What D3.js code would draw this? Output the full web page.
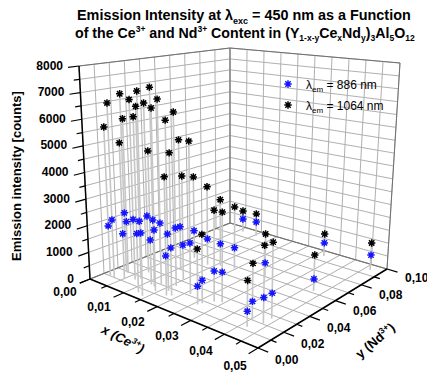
<!DOCTYPE html>
<html><head><meta charset="utf-8">
<script src="https://cdn.jsdelivr.net/npm/d3@7"></script>
<style>
body{margin:0;background:#fff}
text{font-family:"Liberation Sans",Arial,Helvetica,sans-serif}
</style>
</head><body>
<svg id="chart" width="427" height="376"></svg>
<script>
// ---------- data ----------
const ceContent = [0.0017,0.0034,0.0053,0.0030,0.0036,0.0070,0.0121,0.0077,0.0140,0.0066,
                   0.0114,0.0126,0.0144,0.0132,0.0177,0.0165,0.0186,0.0160,0.0110,0.0148,
                   0.0212,0.0085,0.0135,0.0161,0.0196,0.0278,0.0294,0.0263,0.0260,0.0406,
                   0.0417,0.0436,0.0436,0.0285,0.0425,0.0320,0.0467,0.0063,0.0105];
const ndContent = [0.0105,0.0093,0.0120,0.0190,0.0188,0.0156,0.0057,0.0182,0.0040,0.0263,
                   0.0168,0.0161,0.0125,0.0197,0.0125,0.0169,0.0141,0.0238,0.0391,0.0319,
                   0.0216,0.0549,0.0527,0.0559,0.0579,0.0230,0.0250,0.0178,0.0151,0.0197,
                   0.0130,0.0206,0.0270,0.0592,0.0618,0.0950,0.0950,0.0950,0.0950];
const em886  = [1880,2200,1710,2280,1970,2250,2110,2160,2240,2170,
                1640,2440,2210,2280,1410,2060,1700,2130,1680,1290,
                1830,1090,1020,860,800,1070,1050,800,640,630,
                505,855,850,550,435,530,570,565,600];
const em1064 = [5640,6600,5120,6850,5910,6750,6320,6480,7300,6500,
                4930,7310,6620,6850,4230,6180,5090,6390,5040,3880,
                5480,3260,3070,2590,2390,3200,3150,2400,1930,1890,
                1510,2570,2550,1640,1300,890,1040,920,950];
const seriesNames = ["886 nm","1064 nm"];
const xTickValues = [0,0.005,0.01,0.015,0.02,0.025,0.03,0.035,0.04,0.045,0.05];
const yTickValues = [0,0.01,0.02,0.03,0.04,0.05,0.06,0.07,0.08,0.09,0.10];
const zTickValues = d3.range(0,8001,500);

// ---------- layout ----------
const svg = d3.select("#chart");
const xs = d3.scaleLinear().domain([0,0.05]).range([0,1]);
const ys = d3.scaleLinear().domain([0,0.1]).range([0,1]);
const zs = d3.scaleLinear().domain([0,8000]).range([0,1]);
// projected box corners [u][v][w]
const C = [[[[90,279],[79,66]],[[230,223],[230,48]]],
           [[[258,348],[262,88]],[[387,269],[400,63]]]];
function P(u,v,w){
  let x=0,y=0;
  for(let i=0;i<2;i++)for(let j=0;j<2;j++)for(let k=0;k<2;k++){
    const wt=(i?u:1-u)*(j?v:1-v)*(k?w:1-w);
    x+=wt*C[i][j][k][0]; y+=wt*C[i][j][k][1];
  }
  return [x,y];
}
function seg(g,a,b,stroke,sw){
  g.append("line").attr("x1",a[0]).attr("y1",a[1]).attr("x2",b[0]).attr("y2",b[1])
   .attr("stroke",stroke).attr("stroke-width",sw);
}
function unit(a,b){const dx=b[0]-a[0],dy=b[1]-a[1],l=Math.hypot(dx,dy);return [dx/l,dy/l];}

const grid = svg.append("g");
const gc = "#b0b0b0";
// back-left wall (x=0)
yTickValues.forEach(t=>seg(grid,P(0,ys(t),0),P(0,ys(t),1),gc,1));
zTickValues.forEach(t=>seg(grid,P(0,0,zs(t)),P(0,1,zs(t)),gc,1));
// back-right wall (y=0.1)
xTickValues.forEach(t=>seg(grid,P(xs(t),1,0),P(xs(t),1,1),gc,1));
zTickValues.forEach(t=>seg(grid,P(0,1,zs(t)),P(1,1,zs(t)),gc,1));
// floor
xTickValues.forEach(t=>seg(grid,P(xs(t),0,0),P(xs(t),1,0),gc,1));
yTickValues.forEach(t=>seg(grid,P(0,ys(t),0),P(1,ys(t),0),gc,1));
// frame
const fc="#707070";
seg(grid,P(0,0,1),P(0,1,1),fc,1);
seg(grid,P(0,1,1),P(1,1,1),fc,1);
seg(grid,P(1,1,0),P(1,1,1),fc,1);
seg(grid,P(0,1,0),P(0,1,1),fc,1);
seg(grid,P(0,1,0),P(1,1,0),fc,1.2);
seg(grid,P(0,0,0),P(0,1,0),fc,1.2);
// axes
seg(grid,P(0,0,0),P(0,0,1),"#000",1.5);
seg(grid,P(0,0,0),P(1,0,0),"#000",1.5);
seg(grid,P(1,0,0),P(1,1,0),"#000",1.5);

const fmt = v=>d3.format(".2f")(v).replace(".",",");
const lab = svg.append("g").attr("font-weight","bold").attr("font-size",12);
// z ticks
zTickValues.forEach(t=>{
  const p=P(0,0,zs(t)), d=unit(P(0,1,zs(t)),p), major=t%1000===0, L=major?11:6;
  seg(lab,p,[p[0]+d[0]*L,p[1]+d[1]*L],"#000",1.2);
  if(major) lab.append("text").attr("x",p[0]-16).attr("y",p[1]+3.5)
     .attr("text-anchor","end").text(t);
});
// x ticks
xTickValues.forEach((t,i)=>{
  const p=P(xs(t),0,0), d=unit(P(xs(t),1,0),p), major=i%2===0, L=major?11:6;
  seg(lab,p,[p[0]+d[0]*L,p[1]+d[1]*L],"#000",1.2);
  if(major) lab.append("text").attr("x",p[0]+d[0]*28+1).attr("y",p[1]+d[1]*28+7)
     .attr("text-anchor","middle").text(fmt(t));
});
// y ticks
yTickValues.forEach((t,i)=>{
  const p=P(1,ys(t),0), d=unit(P(0,ys(t),0),p), major=i%2===0, L=major?11:6;
  seg(lab,p,[p[0]+d[0]*L,p[1]+d[1]*L],"#000",1.2);
  if(major) lab.append("text").attr("x",p[0]+d[0]*31).attr("y",p[1]+d[1]*31+4.5)
     .attr("text-anchor","middle").text(fmt(t));
});

// drop lines
const drops = svg.append("g");
ceContent.forEach((c,i)=>{
  const top=Math.max(em886[i],em1064[i]);
  seg(drops,P(xs(c),ys(ndContent[i]),zs(top)),P(xs(c),ys(ndContent[i]),0),"#c6c6c6",1.6);
});
// markers
function star(g,p,col){
  const r=3.7;
  const d=`M${p[0]-r},${p[1]}h${2*r}M${p[0]},${p[1]-r}v${2*r}`+
          `M${p[0]-r*0.72},${p[1]-r*0.72}l${1.44*r},${1.44*r}M${p[0]-r*0.72},${p[1]+r*0.72}l${1.44*r},${-1.44*r}`;
  g.append("path").attr("d",d).attr("stroke",col).attr("stroke-width",1.5).attr("fill","none");
}
const mk = svg.append("g");
ceContent.forEach((c,i)=>{
  star(mk,P(xs(c),ys(ndContent[i]),zs(em1064[i])),"#000");
  star(mk,P(xs(c),ys(ndContent[i]),zs(em886[i])),"#1414ff");
});

// legend
const lg = svg.append("g").attr("font-size",12);
[["#1414ff",seriesNames[0],84],["#000",seriesNames[1],105]].forEach(([col,name,y])=>{
  star(lg,[288,y],col);
  const t=lg.append("text").attr("x",306).attr("y",y+4.5);
  t.append("tspan").text("λ");
  t.append("tspan").attr("font-size",8).attr("dy",3).text("em");
  t.append("tspan").attr("dy",-3).text(" = "+name);
});

// titles
const tt = svg.append("g").attr("font-weight","bold");
const t1 = tt.append("text").attr("x",77).attr("y",20).attr("font-size",14.4);
t1.append("tspan").text("Emission Intensity at λ");
t1.append("tspan").attr("font-size",9).attr("dy",3.5).text("exc");
t1.append("tspan").attr("dy",-3.5).text(" = 450 nm as a Function");
const t2 = tt.append("text").attr("x",75).attr("y",37.5).attr("font-size",14.2);
const parts=[["of the Ce",0],["3+",-1],[" and Nd",0],["3+",-1],[" Content in (Y",0],["1-x-y",1],["Ce",0],["x",1],
             ["Nd",0],["y",1],[")",0],["3",1],["Al",0],["5",1],["O",0],["12",1]];
let cur=0;
parts.forEach(([s,k])=>{
  const target = k===-1?-5.5:(k===1?3.5:0);
  const ts=t2.append("tspan").attr("dy",target-cur).text(s);
  if(k!==0) ts.attr("font-size",8.5);
  cur=target;
});
// axis titles
const at = svg.append("g").attr("font-weight","bold").attr("font-size",13);
at.append("text").attr("transform","translate(21,176) rotate(-90)").attr("text-anchor","middle")
  .text("Emission intensity [counts]");
const xt = at.append("text").attr("transform","translate(121,343) rotate(27)").attr("text-anchor","middle")
  .attr("font-style","italic");
xt.append("tspan").text("x (Ce");
xt.append("tspan").attr("font-size",8.5).attr("dy",-5).text("3+");
xt.append("tspan").attr("dy",5).text(")");
const yt = at.append("text").attr("transform","translate(378,344) rotate(-40)").attr("text-anchor","middle");
yt.append("tspan").text("y (Nd");
yt.append("tspan").attr("font-size",8.5).attr("dy",-5).text("3+");
yt.append("tspan").attr("dy",5).text(")");
</script>
</body></html>
